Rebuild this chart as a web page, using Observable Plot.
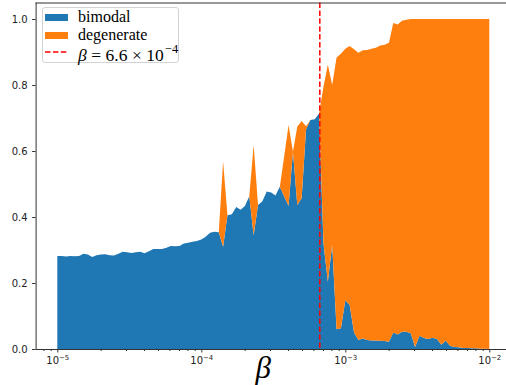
<!DOCTYPE html>
<html><head><meta charset="utf-8">
<script src="https://cdn.jsdelivr.net/npm/d3@7"></script>
<script src="https://cdn.jsdelivr.net/npm/@observablehq/plot@0.6"></script>
<style>
html,body{margin:0;padding:0;background:#fff;}
#wrap{position:relative;width:506px;height:385px;overflow:hidden;}
#wrap svg{position:absolute;left:0;top:0;}
.lg{position:absolute;}
.lgbox{left:41.5px;top:7px;width:137px;height:56px;box-sizing:border-box;border:1px solid #d3d3d3;border-radius:3px;background:rgba(255,255,255,0.8);}
.lgtxt{font-family:"Liberation Serif",serif;font-size:16px;line-height:16px;color:#000;white-space:nowrap;left:78px;}
.math{font-size:17.5px;line-height:17.5px;}
.math sup{font-size:12.5px;line-height:0;vertical-align:baseline;position:relative;top:-7.5px;margin-left:1px;}
.math .op{margin:0 4.5px;}
</style>
</head><body>
<div id="wrap"></div>
<script>
// ---- data ----
const seriesNames = ["bimodal", "degenerate"];
const seriesColors = ["#1f77b4", "#ff7f0e"];
const betaMantissa = [1.000,1.072,1.150,1.233,1.322,1.417,1.520,1.630,1.748,1.874,2.009,2.154,2.310,2.477,2.656,2.848,3.054,3.275,3.511,3.765,4.037,4.329,4.642,4.977,5.337,5.722,6.136,6.579,7.055,7.565,8.111,8.697,9.326];
const betaDecades = [1e-5, 1e-4, 1e-3];
const betaLast = 1e-2;
const bimodal = [
 0.282,0.282,0.280,0.282,0.281,0.282,0.289,0.286,0.279,0.284,
 0.286,0.287,0.284,0.283,0.289,0.295,0.293,0.291,0.293,0.295,
 0.290,0.296,0.303,0.303,0.303,0.307,0.312,0.311,0.312,0.320,
 0.322,0.325,0.327,0.332,0.340,0.352,0.355,0.354,0.310,0.405,
 0.408,0.430,0.422,0.433,0.463,0.345,0.436,0.448,0.477,0.474,
 0.465,0.492,0.462,0.433,0.598,0.436,0.457,0.665,0.694,0.696,
 0.714,0.320,0.204,0.315,0.060,0.063,0.148,0.133,0.050,0.027,
 0.032,0.027,0.026,0.026,0.025,0.024,0.022,0.050,0.044,0.052,
 0.052,0.048,0.006,0.040,0.033,0.030,0.034,0.030,0.013,0.025,
 0.010,0.006,0.005,0.003,0.003,0.002,0.002,0.001,0.001,0.000];
const degenerate = [
 0,0,0,0,0,0,0,0,0,0,
 0,0,0,0,0,0,0,0,0,0,
 0,0,0,0,0,0,0,0,0,0,
 0,0,0,0,0,0,0,0,0.258,0,
 0,0,0,0,0,0.273,0,0,0,0,
 0,0,0.123,0.246,0,0.238,0.234,0.010,0,0,
 0,0.475,0.657,0.485,0.823,0.832,0.762,0.785,0.858,0.871,
 0.873,0.879,0.884,0.887,0.895,0.898,0.906,0.938,0.939,0.943,
 0.946,0.952,0.994,0.960,0.967,0.970,0.966,0.970,0.987,0.975,
 0.990,0.994,0.995,0.997,0.997,0.998,0.998,0.999,0.999,1.000];
const thresholdBeta = 6.6e-4;
const xMajorTicks = [1e-5, 1e-4, 1e-3, 1e-2];
const xMinorTicks = [8e-6,9e-6,2e-5,3e-5,4e-5,5e-5,6e-5,7e-5,8e-5,9e-5,2e-4,3e-4,4e-4,5e-4,6e-4,7e-4,8e-4,9e-4,2e-3,3e-3,4e-3,5e-3,6e-3,7e-3,8e-3,9e-3];
const yTicks = [0, 0.2, 0.4, 0.6, 0.8, 1.0];
const xDomain = [Math.pow(10, -5.1507), Math.pow(10, -1.884)];
const yDomain = [0, 1.05];

// ---- build table ----
const betas = betaDecades.flatMap(d => betaMantissa.map(m => m * d)).concat([betaLast]);
const rows = [];
seriesNames.forEach((s, k) => {
  const vals = k === 0 ? bimodal : degenerate;
  betas.forEach((b, i) => rows.push({beta: b, series: s, value: vals[i]}));
});

const spine = "#333";
const chart = Plot.plot({
  width: 506, height: 385,
  marginLeft: 35.6, marginRight: 0, marginTop: 2.5, marginBottom: 36,
  style: {fontFamily: "DejaVu Sans", fontSize: "10px", color: "#222", background: "#fff"},
  x: {type: "log", domain: xDomain, label: null},
  y: {domain: yDomain, label: null},
  color: {domain: seriesNames, range: seriesColors},
  marks: [
    Plot.areaY(rows, {x: "beta", y: "value", fill: "series", z: "series", order: null}),
    Plot.ruleX([thresholdBeta], {stroke: "red", strokeWidth: 1.5, strokeDasharray: "5.5,2.4"}),
    Plot.ruleY([yDomain[0]], {stroke: spine, strokeWidth: 1}),
    Plot.ruleY([yDomain[1]], {stroke: spine, strokeWidth: 1}),
    Plot.ruleX([xDomain[0]], {stroke: spine, strokeWidth: 1}),
    Plot.axisX(xMajorTicks, {tickSize: 3.5, tickPadding: 4, stroke: spine, label: null,
      tickFormat: d => "10^" + Math.round(Math.log10(d))}),
    Plot.axisX(xMinorTicks, {tickSize: 2, text: null, stroke: spine, label: null}),
    Plot.axisY(yTicks, {tickSize: 3.5, tickPadding: 5, stroke: spine, label: null, tickFormat: d => d.toFixed(1)}),
    Plot.text(["β"], {text: d => d, frameAnchor: "bottom", dx: -8, dy: 19, lineAnchor: "middle",
      fontSize: 31, fontStyle: "italic", fontFamily: "Liberation Serif", fill: "#000"})
  ]
});

// superscript exponents on x tick labels
d3.select(chart).selectAll('g[aria-label="x-axis tick label"] text').each(function() {
  const t = d3.select(this);
  const s = t.text();
  const exp = s.split("^")[1];
  if (exp === undefined) return;
  t.text("10");
  t.append("tspan").attr("dy", "-4.5").attr("font-size", "7px").text(exp.replace("-", "\u2212"));
});

const wrap = document.getElementById("wrap");
wrap.appendChild(chart);

// legend (inside axes, upper left)
const lg = document.createElement("div");
lg.innerHTML = `
<div class="lg lgbox"></div>
<div class="lg" style="left:45px;top:14px;width:23px;height:7px;background:${seriesColors[0]}"></div>
<div class="lg" style="left:45px;top:32px;width:23px;height:7px;background:${seriesColors[1]}"></div>
<svg class="lg" style="left:45px;top:49px" width="24" height="6"><line x1="0" y1="3" x2="23" y2="3" stroke="red" stroke-width="1.5" stroke-dasharray="5.5,2.4"/></svg>
<div class="lg lgtxt" style="top:8.5px">${seriesNames[0]}</div>
<div class="lg lgtxt" style="top:27px">${seriesNames[1]}</div>
<div class="lg lgtxt math" style="top:46.5px"><i>β</i><span class="op">=</span>6.6<span class="op">×</span>10<sup>−4</sup></div>`;
wrap.appendChild(lg);
</script>
</body></html>
